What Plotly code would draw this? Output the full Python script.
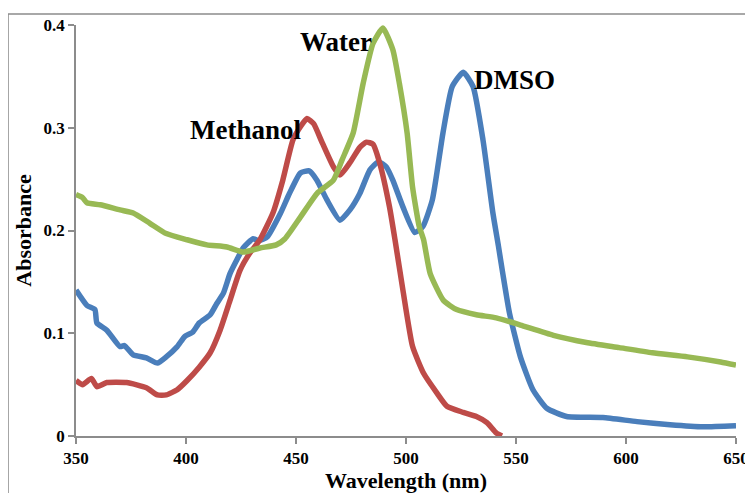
import plotly.graph_objects as go

# DMSO (blue)
dmso_wl = [350, 355, 358.6, 359.5, 364, 370, 372, 376, 382, 387, 391, 396, 399.5, 403, 406, 411, 414, 417,
           420, 423, 426, 430.5, 433, 437, 443, 447, 452, 456, 459.5, 464, 470, 474.5, 479, 483.6, 487.5,
           491, 494, 498.6, 504, 507.7, 512, 516.8, 521, 526, 530.5, 535, 539.5, 542, 544, 547, 552, 557.7,
           564, 573, 589.5, 605, 620, 635, 650]
dmso_abs = [0.142, 0.127, 0.123, 0.110, 0.103, 0.087, 0.088, 0.079, 0.076, 0.071, 0.077, 0.087, 0.097, 0.101,
            0.110, 0.118, 0.129, 0.139, 0.158, 0.171, 0.183, 0.192, 0.190, 0.194, 0.217, 0.236, 0.256, 0.258,
            0.249, 0.230, 0.210, 0.220, 0.236, 0.259, 0.267, 0.262, 0.249, 0.223, 0.198, 0.204, 0.230, 0.295,
            0.340, 0.354, 0.340, 0.288, 0.217, 0.185, 0.158, 0.120, 0.077, 0.045, 0.027, 0.019, 0.018, 0.014,
            0.011, 0.009, 0.010]

# Methanol (red)
meoh_wl = [350, 353, 357, 359.5, 364, 373, 382, 387, 391, 396, 400.5, 406, 411, 415.5, 420, 424.5, 429,
           433.6, 439.5, 444, 448.6, 452, 455, 458, 462, 467, 470, 474.5, 479, 482, 485, 488, 492.5, 495,
           498.6, 503, 508, 514, 518.6, 526, 532, 536.8, 541, 543.6]
meoh_abs = [0.054, 0.050, 0.056, 0.048, 0.052, 0.052, 0.047, 0.040, 0.040, 0.045, 0.054, 0.067, 0.081, 0.103,
            0.132, 0.161, 0.178, 0.191, 0.217, 0.249, 0.288, 0.301, 0.309, 0.304, 0.285, 0.262, 0.254, 0.266,
            0.281, 0.286, 0.284, 0.266, 0.223, 0.191, 0.142, 0.087, 0.061, 0.042, 0.029, 0.023, 0.019, 0.013,
            0.003, 0.0]

# Water (green)
water_wl = [350, 353, 355, 361, 370, 376, 383.6, 391, 400.5, 409.5, 418.6, 426, 433.6, 441, 445, 452, 459.5,
            467, 471, 476, 480.5, 485, 489.5, 494, 497, 500.5, 503, 506, 508, 511, 517, 523, 532, 541, 552,
            567, 582, 597, 612, 628, 643, 650]
water_abs = [0.235, 0.232, 0.227, 0.225, 0.220, 0.217, 0.207, 0.197, 0.191, 0.186, 0.184, 0.179, 0.183, 0.186,
             0.192, 0.213, 0.236, 0.249, 0.269, 0.295, 0.343, 0.382, 0.397, 0.376, 0.343, 0.295, 0.242, 0.204,
             0.191, 0.158, 0.132, 0.123, 0.118, 0.115, 0.108, 0.098, 0.091, 0.086, 0.081, 0.077, 0.072, 0.069]

x_ticks = [350, 400, 450, 500, 550, 600, 650]
y_ticks = [0, 0.1, 0.2, 0.3, 0.4]
y_tick_text = ["0", "0.1", "0.2", "0.3", "0.4"]

labels = ["DMSO", "Methanol", "Water"]
label_x = [549.5, 427, 468]
label_y = [0.346, 0.298, 0.383]

SERIF = "Liberation Serif, Times New Roman, serif"

fig = go.Figure()
for wl, ab, col, name in [(dmso_wl, dmso_abs, "#4A7EBB", "DMSO"),
                          (meoh_wl, meoh_abs, "#BE4B48", "Methanol"),
                          (water_wl, water_abs, "#98B954", "Water")]:
    fig.add_trace(go.Scatter(x=wl, y=ab, mode="lines", name=name, cliponaxis=False,
                             line=dict(color=col, width=5.5, shape="spline", smoothing=0.5)))

for t, lx, ly in zip(labels, label_x, label_y):
    fig.add_annotation(x=lx, y=ly, text="<b>%s</b>" % t, showarrow=False,
                       font=dict(family=SERIF, size=27, color="black"))

# outer chart border (left and top visible)
fig.add_shape(type="path", xref="paper", yref="paper",
              path="M -0.103,-0.3 L -0.103,1.027 L 1.2,1.027",
              line=dict(color="#8C8C8C", width=1.5))

fig.update_layout(
    width=745, height=485,
    margin=dict(l=68, r=17, t=17, b=57, autoexpand=False),
    paper_bgcolor="white", plot_bgcolor="white",
    showlegend=False,
    font=dict(family=SERIF, color="black"),
    xaxis=dict(range=[350, 650], tickvals=x_ticks, ticktext=["<b>%d</b>" % v for v in x_ticks],
               showgrid=False, zeroline=False, automargin=False,
               showline=True, linecolor="#8C8C8C", linewidth=1.5,
               ticks="outside", ticklen=6, tickcolor="#8C8C8C", tickwidth=1.5,
               tickfont=dict(family=SERIF, size=17),
               title=dict(text="<b>Wavelength (nm)</b>", font=dict(family=SERIF, size=22), standoff=2)),
    yaxis=dict(range=[0, 0.4], tickvals=y_ticks, ticktext=["<b>%s</b>" % s for s in y_tick_text],
               showgrid=False, zeroline=False, automargin=False,
               showline=True, linecolor="#8C8C8C", linewidth=1.5,
               ticks="outside", ticklen=6, tickcolor="#8C8C8C", tickwidth=1.5,
               tickfont=dict(family=SERIF, size=17),
               title=dict(text="<b>Absorbance</b>", font=dict(family=SERIF, size=22), standoff=6)),
)

fig.write_html("out.html")
